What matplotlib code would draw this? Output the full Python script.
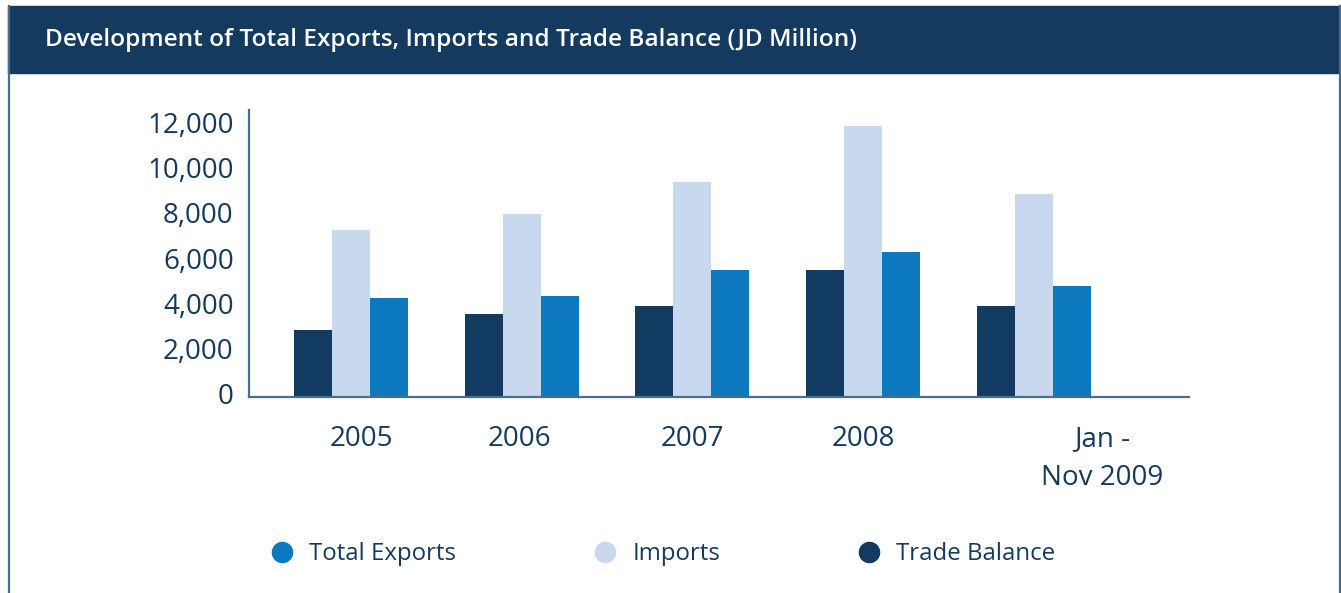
import numpy as np
import matplotlib
matplotlib.use("Agg")
from matplotlib import pyplot as plt
from matplotlib.lines import Line2D
from matplotlib.patches import Rectangle
from matplotlib.transforms import ScaledTranslation

# JD million
periods = ["2005", "2006", "2007", "2008", "Jan -\nNov 2009"]
trade_balance = [2950, 3660, 4010, 5600, 4010]
imports = [7380, 8080, 9500, 11980, 8970]
total_exports = [4370, 4460, 5600, 6400, 4900]
y_ticks = [0, 2000, 4000, 6000, 8000, 10000, 12000]

navy = "#123b62"
light = "#c8d8ee"
mid = "#0c79bf"
text_col = "#163a5e"
line_col = "#4d6d8e"

plt.rcParams["font.family"] = ["Open Sans", "DejaVu Sans"]

W, H = 1341, 593
fig = plt.figure(figsize=(W / 100, H / 100), dpi=100)

# header band and frame
fig.patches.append(Rectangle((8 / W, 1 - 73 / H), 1 - 8 / W, 67 / H,
                             transform=fig.transFigure, color="#143a5f", zorder=0))
fig.add_artist(Line2D([8.5 / W, 8.5 / W], [0, 1 - 6 / H], transform=fig.transFigure,
                      color=line_col, lw=1.6))
fig.add_artist(Line2D([1339.5 / W, 1339.5 / W], [0, 1 - 6 / H], transform=fig.transFigure,
                      color=line_col, lw=1.6))
fig.text(45 / W, 1 - 40 / H,
         "Development of Total Exports, Imports and Trade Balance (JD Million)",
         color="white", fontsize=17.6, fontweight="semibold", va="center", ha="left")

ax = fig.add_axes([249 / W, 1 - 396.7 / H, 940 / W, 286.7 / H])

x = np.arange(len(periods))
w = 0.2225
ax.bar(x - w, trade_balance, w, color=navy, label="Trade Balance")
ax.bar(x, imports, w, color=light, label="Imports")
ax.bar(x + w, total_exports, w, color=mid, label="Total Exports")

ax.set_xlim(-0.597, 4.908)
ax.set_ylim(0, 12686)

for s in ["top", "right"]:
    ax.spines[s].set_visible(False)
for s in ["left", "bottom"]:
    ax.spines[s].set_color(line_col)
    ax.spines[s].set_linewidth(1.6)

ax.set_yticks(y_ticks)
ax.set_yticklabels([f"{v:,}" for v in y_ticks])
ax.tick_params(axis="y", length=0, pad=11, labelsize=20, labelcolor=text_col)
# nudge the value labels up a touch
lift = ScaledTranslation(0, 3 / 100, fig.dpi_scale_trans)
for lab in ax.get_yticklabels():
    lab.set_transform(lab.get_transform() + lift)

# labels sit a little off the group centres
label_shift = [0.06, -0.015, 0, 0, 0.40]
ax.set_xticks(x + np.array(label_shift))
ax.set_xticklabels(periods, linespacing=1.5)
ax.tick_params(axis="x", length=0, pad=20.5, labelsize=20, labelcolor=text_col)

handles = [Line2D([], [], marker="o", ls="none", ms=14.5, color=c)
           for c in (mid, light, navy)]
fig.legend(handles, ["Total Exports", "Imports", "Trade Balance"],
           loc="center left", bbox_to_anchor=(258 / W, 38.5 / H), ncol=3,
           frameon=False, fontsize=17.3, borderpad=0, handlelength=1.0,
           handletextpad=0.63, columnspacing=5.7, labelcolor=text_col)

fig.savefig("out.png", dpi=100, facecolor="white")
